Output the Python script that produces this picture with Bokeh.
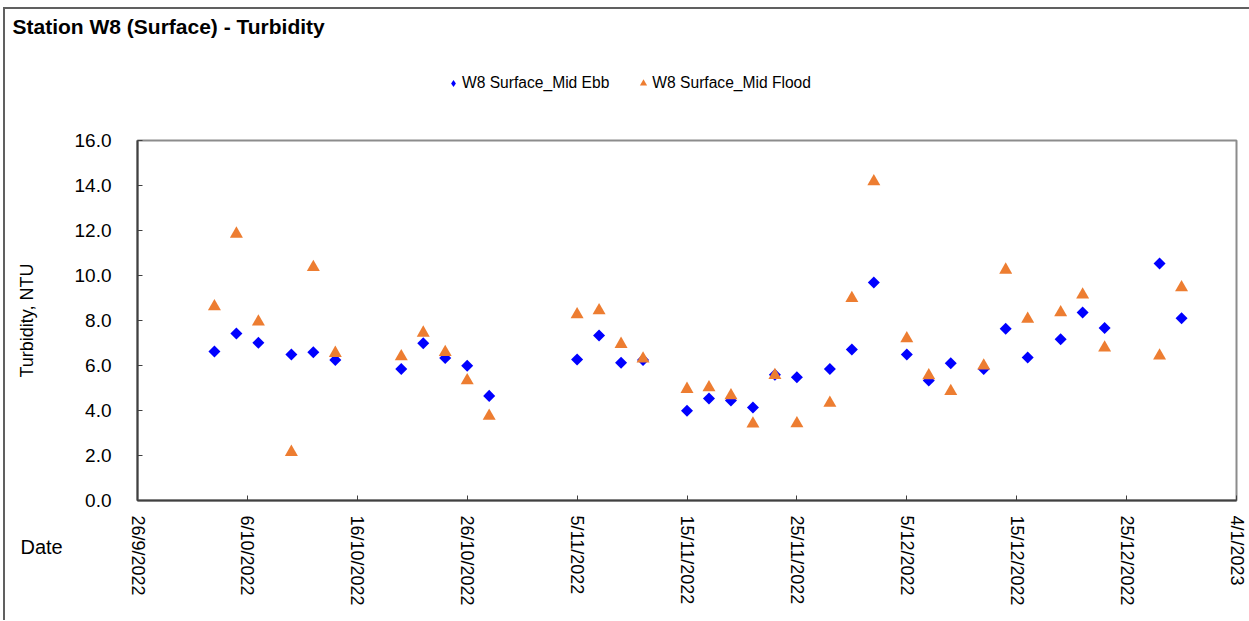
import pandas as pd
from math import pi
from bokeh.plotting import figure
from bokeh.models import (Range1d, FixedTicker, Label, Legend, LegendItem,
                          PrintfTickFormatter, ColumnDataSource)
from bokeh.embed import file_html
from bokeh.resources import INLINE

# ---------------- data ----------------
title_text = "Station W8 (Surface) - Turbidity"
series_names = ["W8 Surface_Mid Ebb", "W8 Surface_Mid Flood"]
y_label = "Turbidity, NTU"
x_label = "Date"

sample_dates = [
    "2022-10-03", "2022-10-05", "2022-10-07", "2022-10-10", "2022-10-12", "2022-10-14",
    "2022-10-20", "2022-10-22", "2022-10-24", "2022-10-26", "2022-10-28",
    "2022-11-05", "2022-11-07", "2022-11-09", "2022-11-11",
    "2022-11-15", "2022-11-17", "2022-11-19", "2022-11-21", "2022-11-23", "2022-11-25",
    "2022-11-28", "2022-11-30", "2022-12-02",
    "2022-12-05", "2022-12-07", "2022-12-09", "2022-12-12", "2022-12-14", "2022-12-16",
    "2022-12-19", "2022-12-21", "2022-12-23", "2022-12-28", "2022-12-30",
]
ebb_values = [
    6.62, 7.42, 7.01, 6.49, 6.59, 6.25,
    5.84, 6.99, 6.33, 5.99, 4.65,
    6.27, 7.33, 6.12, 6.25,
    3.99, 4.53, 4.44, 4.13, 5.59, 5.48,
    5.84, 6.71, 9.69,
    6.49, 5.33, 6.10, 5.84, 7.63, 6.36,
    7.17, 8.36, 7.67, 10.53, 8.10,
]
flood_values = [
    8.62, 11.85, 7.94, 2.15, 10.37, 6.55,
    6.40, 7.45, 6.59, 5.33, 3.76,
    8.27, 8.44, 6.95, 6.30,
    4.95, 5.02, 4.67, 3.41, 5.57, 3.42,
    4.33, 8.99, 14.18,
    7.20, 5.56, 4.86, 5.99, 10.25, 8.07,
    8.36, 9.14, 6.79, 6.43, 9.47,
]
x_tick_labels = ["26/9/2022", "6/10/2022", "16/10/2022", "26/10/2022", "5/11/2022",
                 "15/11/2022", "25/11/2022", "5/12/2022", "15/12/2022", "25/12/2022",
                 "4/1/2023"]
y_ticks = [0, 2, 4, 6, 8, 10, 12, 14, 16]

# ---------------- derived ----------------
FONT = "Liberation Sans"
W, H = 1246, 613
EBB_COLOR, FLOOD_COLOR = "#0000FF", "#ED7D31"
dates = pd.to_datetime(sample_dates)
tick_dates = pd.to_datetime(x_tick_labels, format="%d/%m/%Y")
epoch = pd.Timestamp("1970-01-01")
tick_ms = [int((t - epoch) / pd.Timedelta(milliseconds=1)) for t in tick_dates]

src = ColumnDataSource(dict(date=dates, ebb=ebb_values, flood=flood_values))

# ---------------- main chart ----------------
p = figure(width=W, height=H, x_axis_type="datetime",
           x_range=Range1d(tick_ms[0], tick_ms[-1]), y_range=Range1d(y_ticks[0], y_ticks[-1]),
           output_backend="svg", toolbar_location=None,
           min_border_left=134, min_border_right=13, min_border_top=133, min_border_bottom=120)
p.title.visible = False
p.styles = {"margin-left": "3px", "margin-top": "7px",
            "box-shadow": "inset 2px 2px 0 0 #606060"}
p.border_fill_color = None
p.background_fill_color = "white"
p.outline_line_color = "#8c8c8c"
p.outline_line_width = 2
p.xgrid.visible = False
p.ygrid.visible = False

p.scatter("date", "ebb", source=src, marker="square", angle=pi / 4, size=8.5,
          fill_color=EBB_COLOR, line_color=None)
p.scatter("date", "flood", source=src, marker="triangle", size=13,
          fill_color=FLOOD_COLOR, line_color=None)

xa = p.xaxis[0]
xa.ticker = FixedTicker(ticks=tick_ms)
xa.major_label_overrides = {ms: lab for ms, lab in zip(tick_ms, x_tick_labels)}
xa.major_label_orientation = "vertical"
xa.major_label_text_font = FONT
xa.major_label_text_font_size = "18px"
xa.major_label_text_color = "black"
xa.major_label_standoff = 15
xa.major_tick_in = 5
xa.major_tick_out = 0
xa.minor_tick_line_color = None
xa.axis_line_color = "#404040"
xa.axis_line_width = 2
xa.major_tick_line_color = "#404040"

ya = p.yaxis[0]
ya.ticker = FixedTicker(ticks=y_ticks)
ya.formatter = PrintfTickFormatter(format="%.1f")
ya.major_label_text_font = FONT
ya.major_label_text_font_size = "19px"
ya.major_label_text_color = "black"
ya.major_label_standoff = 26
ya.major_tick_in = 5
ya.major_tick_out = 0
ya.minor_tick_line_color = None
ya.axis_line_color = "#404040"
ya.axis_line_width = 2
ya.major_tick_line_color = "#404040"
ya.axis_label = y_label
ya.axis_label_text_font = FONT
ya.axis_label_text_font_size = "18px"
ya.axis_label_text_font_style = "normal"
ya.axis_label_text_color = "black"
ya.axis_label_standoff = 35

# ---------------- overlay for the texts outside the plot area ----------------
ov = figure(width=W, height=H, x_range=Range1d(0, 1), y_range=Range1d(0, 1),
            output_backend="svg", toolbar_location=None,
            x_axis_location=None, y_axis_location=None, min_border=0)
ov.title.visible = False
ov.styles = {"position": "absolute", "left": "3px", "top": "7px"}
ov.border_fill_color = None
ov.background_fill_color = None
ov.outline_line_color = None
ov.xgrid.visible = False
ov.ygrid.visible = False

# legend keys: same series, hidden (only their legend swatches are shown)
ebb_key = ov.scatter("date", "ebb", source=src, marker="diamond", size=8.5,
                     fill_color=EBB_COLOR, line_color=None, visible=False)
flood_key = ov.scatter("date", "flood", source=src, marker="triangle", size=13,
                       fill_color=FLOOD_COLOR, line_color=None, visible=False)

ov.add_layout(Label(x=9, y=H - 19, x_units="screen", y_units="screen", text=title_text,
                    text_font=FONT, text_font_size="21px", text_font_style="bold",
                    text_baseline="middle", text_color="black"))
ov.add_layout(Label(x=17, y=H - 539, x_units="screen", y_units="screen", text=x_label,
                    text_font=FONT, text_font_size="20px", text_baseline="middle",
                    text_color="black"))

legend = Legend(items=[LegendItem(label=series_names[0], renderers=[ebb_key]),
                       LegendItem(label=series_names[1], renderers=[flood_key])],
                location=(441, H - 86), orientation="horizontal", padding=0, margin=0,
                spacing=25, glyph_width=18, glyph_height=20, label_standoff=0,
                label_height=20, label_text_font=FONT, label_text_font_size="15.6px",
                label_text_color="black", border_line_color=None,
                background_fill_alpha=0, inactive_fill_alpha=0, click_policy="none")
ov.add_layout(legend)

open("out.html", "w").write(file_html([p, ov], INLINE))
